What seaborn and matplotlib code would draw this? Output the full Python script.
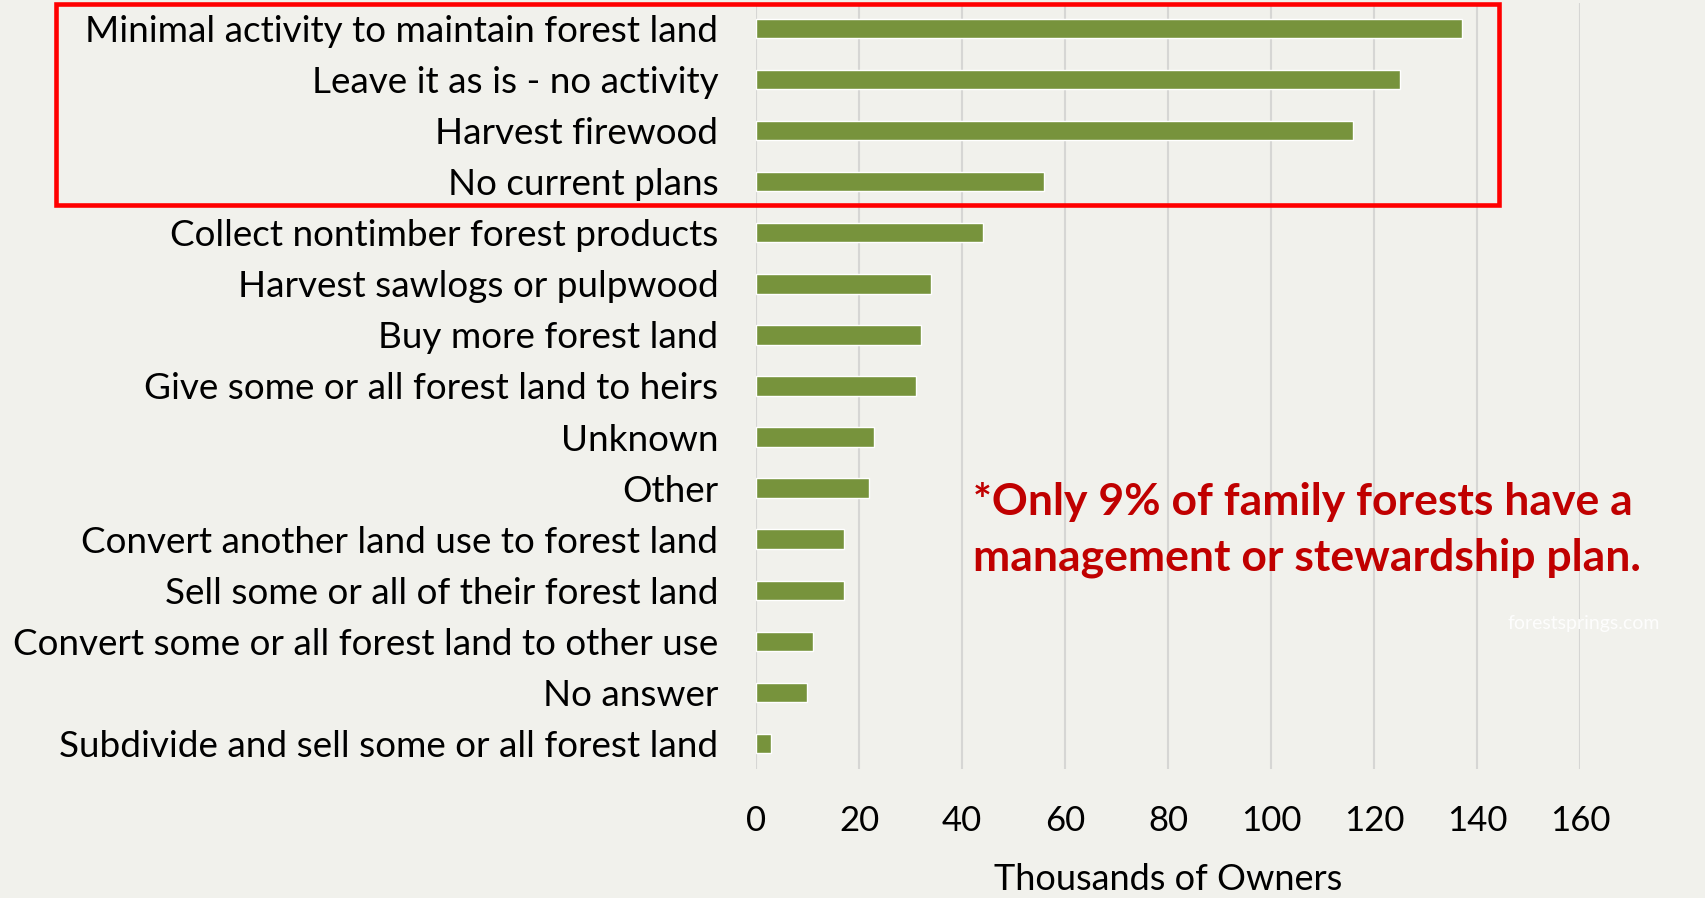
import matplotlib
matplotlib.use("Agg")
import matplotlib.pyplot as plt
import matplotlib.patches as patches
import seaborn as sns
import pandas as pd

# data (thousands of owners)
activities = [
    "Minimal activity to maintain forest land",
    "Leave it as is - no activity",
    "Harvest firewood",
    "No current plans",
    "Collect nontimber forest products",
    "Harvest sawlogs or pulpwood",
    "Buy more forest land",
    "Give some or all forest land to heirs",
    "Unknown",
    "Other",
    "Convert another land use to forest land",
    "Sell some or all of their forest land",
    "Convert some or all forest land to other use",
    "No answer",
    "Subdivide and sell some or all forest land",
]
owners = [137, 125, 116, 56, 44, 34, 32, 31, 23, 22, 17, 17, 11, 10, 3]
x_ticks = [0, 20, 40, 60, 80, 100, 120, 140, 160]

bg = "#f1f1ec"
bar_color = "#77933c"

sns.set_style("white")
plt.rcParams["font.family"] = ["Lato", "DejaVu Sans"]

df = pd.DataFrame({"activity": activities, "owners": owners})

fig = plt.figure(figsize=(17.05, 8.98), dpi=100, facecolor=bg)
ax = fig.add_axes([0.4434, 0.1437, 0.4833, 0.853])
ax.set_facecolor(bg)

sns.barplot(data=df, x="owners", y="activity", orient="h", color=bar_color,
            saturation=1, width=0.38, ax=ax, zorder=3)

ax.set_xlim(0, 160)
ax.set_xticks(x_ticks)
ax.grid(axis="x", color="#d6d6d4", linewidth=1.5, zorder=0)
ax.grid(axis="y", visible=False)
for s in ax.spines.values():
    s.set_visible(False)
ax.tick_params(axis="both", length=0, labelcolor="black")
ax.tick_params(axis="y", pad=27, labelsize=26.6)
ax.tick_params(axis="x", pad=26, labelsize=25)
ax.set_ylabel("")
ax.set_xlabel("Thousands of Owners", fontsize=26, labelpad=19, color="black")

# red highlight box around the top four categories
rect = patches.Rectangle((56.5 / 1705, 1 - 205.5 / 898), 1442 / 1705, 201 / 898,
                         transform=fig.transFigure, fill=False,
                         edgecolor="#ff0000", linewidth=3.3, zorder=10)
fig.patches.append(rect)

fig.text(973 / 1705, 1 - 530 / 898,
         "*Only 9% of family forests have a\nmanagement or stewardship plan.",
         color="#c00000", fontsize=32, fontweight="bold", ha="left", va="center",
         linespacing=1.47)

fig.text(1507 / 1705, 1 - 623 / 898, "forestsprings.com", color="white",
         fontsize=14, alpha=0.9, ha="left", va="center")

fig.savefig("out.png", dpi=100, facecolor=bg)
